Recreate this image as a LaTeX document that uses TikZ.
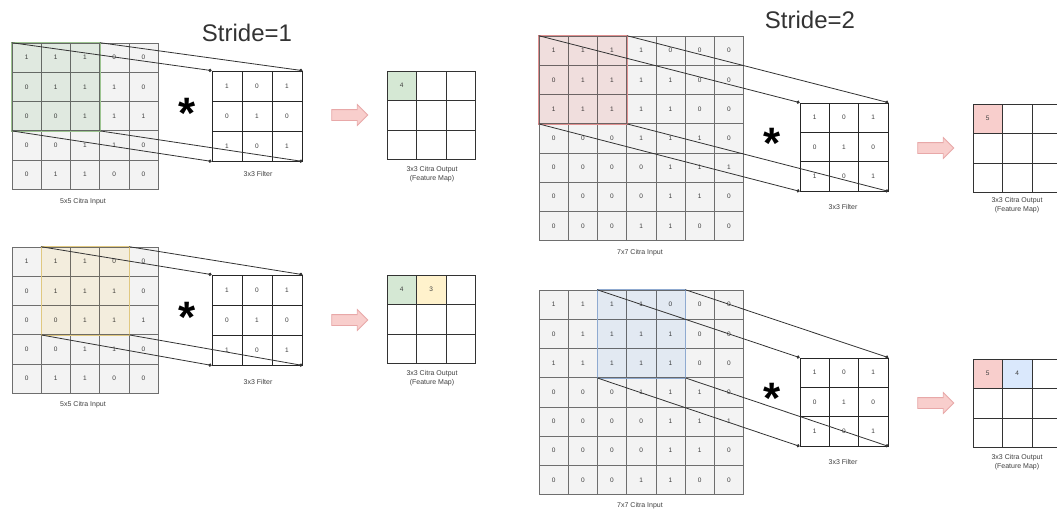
\documentclass[tikz,border=0pt]{standalone}
\usepackage{fontspec}
\setmainfont{Liberation Sans}
\usetikzlibrary{arrows.meta,shapes.arrows}
\definecolor{cellfill}{HTML}{F3F3F3}
\definecolor{cellline}{HTML}{6E6E6E}
\definecolor{txt}{HTML}{404040}
\definecolor{gfill}{HTML}{D5E8D4}
\definecolor{gline}{HTML}{9CC490}
\definecolor{yfill}{HTML}{FFF2CC}
\definecolor{yline}{HTML}{E0C880}
\definecolor{rfill}{HTML}{F8CECC}
\definecolor{rline}{HTML}{E09090}
\definecolor{bfill}{HTML}{DAE8FC}
\definecolor{bline}{HTML}{8FAAD0}
\definecolor{arrfill}{HTML}{F8CECC}
\definecolor{arrline}{HTML}{E8A8A8}
\tikzset{
  incell/.style={draw=cellline, fill=cellfill, line width=0.6pt, inner sep=0pt, text=txt, font=\fontsize{6.5}{7}\selectfont},
  fcell/.style={draw=black!85, fill=white, line width=0.8pt, inner sep=0pt, text=txt, font=\fontsize{6.5}{7}\selectfont},
  ocell/.style={draw=black!80, fill=white, line width=0.8pt, inner sep=0pt, text=txt, font=\fontsize{6.5}{7}\selectfont},
  lbl/.style={text=txt, font=\fontsize{7}{8.5}\selectfont, align=center, inner sep=0pt},
  ttl/.style={text=black!80, font=\fontsize{24}{28}\selectfont, inner sep=0pt},
  startxt/.style={text=black, font=\fontsize{44}{44}\selectfont\bfseries, inner sep=0pt, anchor=base},
  conn/.style={draw=black!80, line width=0.8pt, -{Circle[length=3.2pt]}},
  winline/.style={line width=0.8pt},
  parrow/.style={single arrow, draw=arrline, fill=arrfill, line width=0.8pt, minimum height=36pt, single arrow head extend=5pt, inner xsep=0pt, inner ysep=5pt},
}
\newcommand\cgrid[6]{%
  \foreach \rowvals [count=\r] in {#6} {
    \foreach \v [count=\c] in \rowvals {
      \node[#5, minimum size=#4pt] (#1-\r-\c) at ({#2+(\c-0.5)*#4},{#3+(\r-0.5)*#4}) {\v};
    }
  }%
}
\newcommand\winbox[4]{% fill colour, line colour, corner a, corner b
  \begin{scope}[blend mode=multiply]
    \fill[#1!45!white] (#3.north west) rectangle (#4.south east);
  \end{scope}
  \draw[winline, draw=#2] (#3.north west) rectangle (#4.south east);
}
\begin{document}
\begin{tikzpicture}[x=1pt,y=-1pt]
\useasboundingbox[fill=white] (0,0) rectangle (1057,511);

% ---------- Stride = 1 ----------
\node[ttl] (t1) at (247,33) {Stride=1};

% top row
\cgrid{a}{12}{43}{29.2}{incell}{{1,1,1,0,0},{0,1,1,1,0},{0,0,1,1,1},{0,0,1,1,0},{0,1,1,0,0}}
\winbox{gfill}{gline}{a-1-1}{a-3-3}
\node[lbl] (la) at (83,202) {5x5 Citra Input};
\cgrid{f1}{212}{71}{30}{fcell}{{1,0,1},{0,1,0},{1,0,1}}
\node[lbl] (lf1) at (258,174) {3x3 Filter};
\node[startxt] (s1) at (187,128) {*};
\draw[conn] (a-1-1.north west) -- (f1-1-1.north west);
\draw[conn] (a-1-3.north east) -- (f1-1-3.north east);
\draw[conn] (a-3-1.south west) -- (f1-3-1.south west);
\draw[conn] (a-3-3.south east) -- (f1-3-3.south east);
\node[parrow] (ar1) at (347,115) {};
\cgrid{o1}{387}{71}{29.5}{ocell}{{~,~,~},{~,~,~},{~,~,~}}
\node[ocell, fill=gfill, minimum size=29.5pt] (o1h1) at (o1-1-1) {4};
\node[lbl] (lo1) at (432,174) {3x3 Citra Output\\(Feature Map)};

% bottom row
\cgrid{b}{12}{247}{29.2}{incell}{{1,1,1,0,0},{0,1,1,1,0},{0,0,1,1,1},{0,0,1,1,0},{0,1,1,0,0}}
\winbox{yfill}{yline}{b-1-2}{b-3-4}
\node[lbl] (lb) at (83,405) {5x5 Citra Input};
\cgrid{f2}{212}{275}{30}{fcell}{{1,0,1},{0,1,0},{1,0,1}}
\node[lbl] (lf2) at (258,382) {3x3 Filter};
\node[startxt] (s2) at (187,332) {*};
\draw[conn] (b-1-2.north west) -- (f2-1-1.north west);
\draw[conn] (b-1-4.north east) -- (f2-1-3.north east);
\draw[conn] (b-3-2.south west) -- (f2-3-1.south west);
\draw[conn] (b-3-4.south east) -- (f2-3-3.south east);
\node[parrow] (ar2) at (347,320) {};
\cgrid{o2}{387}{275}{29.5}{ocell}{{~,~,~},{~,~,~},{~,~,~}}
\node[ocell, fill=gfill, minimum size=29.5pt] (o2h1) at (o2-1-1) {4};
\node[ocell, fill=yfill, minimum size=29.5pt] (o2h2) at (o2-1-2) {3};
\node[lbl] (lo2) at (432,378) {3x3 Citra Output\\(Feature Map)};

% ---------- Stride = 2 ----------
\node[ttl] (t2) at (810,20) {Stride=2};

% top row
\cgrid{c}{539}{36}{29.2}{incell}{{1,1,1,1,0,0,0},{0,1,1,1,1,0,0},{1,1,1,1,1,0,0},{0,0,0,1,1,1,0},{0,0,0,0,1,1,1},{0,0,0,0,1,1,0},{0,0,0,1,1,0,0}}
\winbox{rfill}{rline}{c-1-1}{c-3-3}
\node[lbl] (lc) at (640,253) {7x7 Citra Input};
\cgrid{f3}{800}{103}{29.3}{fcell}{{1,0,1},{0,1,0},{1,0,1}}
\node[lbl] (lf3) at (843,207) {3x3 Filter};
\node[startxt] (s3) at (772,158) {*};
\draw[conn] (c-1-1.north west) -- (f3-1-1.north west);
\draw[conn] (c-1-3.north east) -- (f3-1-3.north east);
\draw[conn] (c-3-1.south west) -- (f3-3-1.south west);
\draw[conn] (c-3-3.south east) -- (f3-3-3.south east);
\node[parrow] (ar3) at (933,148) {};
\cgrid{o3}{973}{104}{29.5}{ocell}{{~,~,~},{~,~,~},{~,~,~}}
\node[ocell, fill=rfill, minimum size=29.5pt] (o3h1) at (o3-1-1) {5};
\node[lbl] (lo3) at (1017,205) {3x3 Citra Output\\(Feature Map)};

% bottom row
\cgrid{d}{539}{290}{29.2}{incell}{{1,1,1,1,0,0,0},{0,1,1,1,1,0,0},{1,1,1,1,1,0,0},{0,0,0,1,1,1,0},{0,0,0,0,1,1,1},{0,0,0,0,1,1,0},{0,0,0,1,1,0,0}}
\winbox{bfill}{bline}{d-1-3}{d-3-5}
\node[lbl] (ld) at (640,506) {7x7 Citra Input};
\cgrid{f4}{800}{358}{29.3}{fcell}{{1,0,1},{0,1,0},{1,0,1}}
\node[lbl] (lf4) at (843,462) {3x3 Filter};
\node[startxt] (s4) at (772,413) {*};
\draw[conn] (d-1-3.north west) -- (f4-1-1.north west);
\draw[conn] (d-1-5.north east) -- (f4-1-3.north east);
\draw[conn] (d-3-3.south west) -- (f4-3-1.south west);
\draw[conn] (d-3-5.south east) -- (f4-3-3.south east);
\node[parrow] (ar4) at (933,403) {};
\cgrid{o4}{973}{359}{29.5}{ocell}{{~,~,~},{~,~,~},{~,~,~}}
\node[ocell, fill=rfill, minimum size=29.5pt] (o4h1) at (o4-1-1) {5};
\node[ocell, fill=bfill, minimum size=29.5pt] (o4h2) at (o4-1-2) {4};
\node[lbl] (lo4) at (1017,462) {3x3 Citra Output\\(Feature Map)};
\end{tikzpicture}
\end{document}
